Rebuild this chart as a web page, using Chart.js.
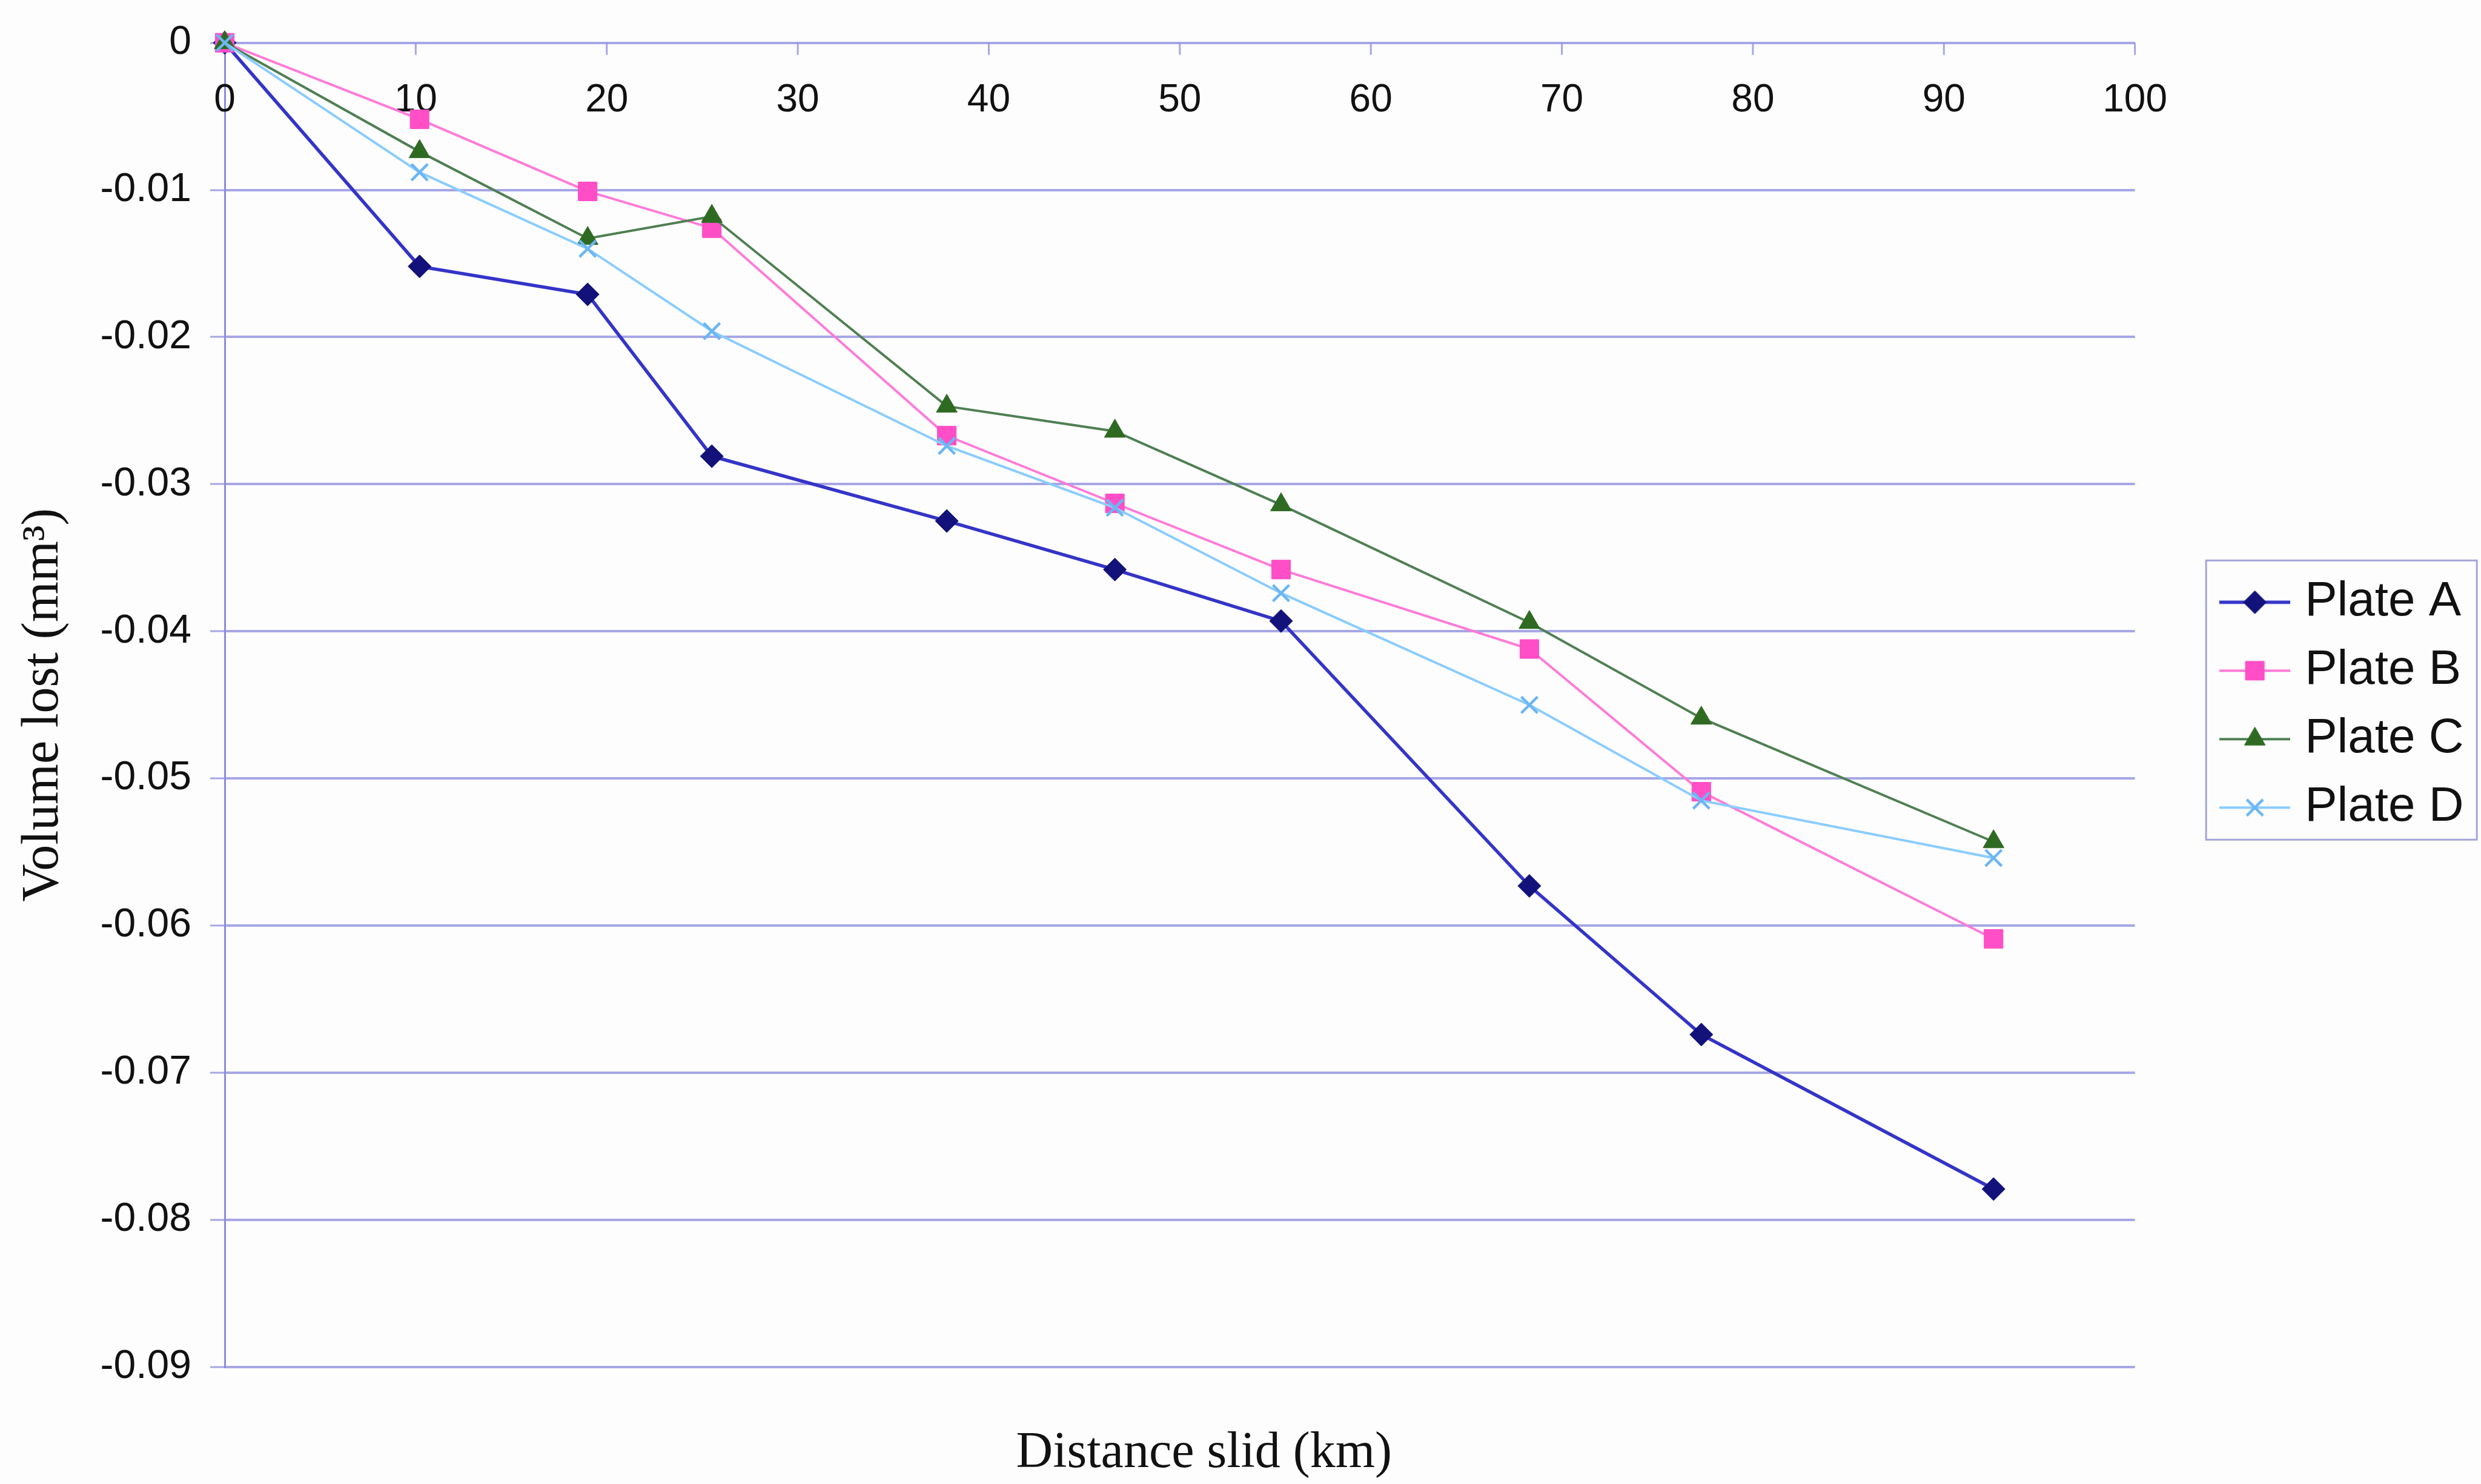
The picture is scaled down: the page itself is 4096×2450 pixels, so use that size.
<!DOCTYPE html>
<html>
<head>
<meta charset="utf-8">
<title>Volume lost vs distance slid</title>
<script src="https://cdn.jsdelivr.net/npm/chart.js@4"></script>
<style>
  html, body { margin: 0; padding: 0; background: #fdfdfe; }
  #wrap { width: 4096px; height: 2450px; position: relative; }
</style>
</head>
<body>
<div id="wrap"><canvas id="chart" width="4096" height="2450"></canvas></div>
<script>
// Sliding distance (km) at each measurement
const distanceKm = [0, 10.2, 19.0, 25.5, 37.8, 46.6, 55.3, 68.3, 77.3, 92.6];

// Volume lost (mm³) per plate
const plateA = [0, -0.0152, -0.0171, -0.0281, -0.0325, -0.0358, -0.0393, -0.0573, -0.0674, -0.0779];
const plateB = [0, -0.0052, -0.0101, -0.0126, -0.0267, -0.0313, -0.0358, -0.0412, -0.0509, -0.0609];
const plateC = [0, -0.0074, -0.0133, -0.0118, -0.0247, -0.0264, -0.0314, -0.0394, -0.0459, -0.0543];
const plateD = [0, -0.0088, -0.0140, -0.0196, -0.0274, -0.0316, -0.0374, -0.0450, -0.0515, -0.0554];

const seriesNames = ['Plate A', 'Plate B', 'Plate C', 'Plate D'];
const xTickValues = [0, 10, 20, 30, 40, 50, 60, 70, 80, 90, 100];
const yMin = -0.09, yMax = 0, yStep = 0.01;
const xTitle = 'Distance slid (km)';
const yTitle = 'Volume lost (mm³)';

const gridColor = 'rgba(150,150,226,0.85)';
const axisColor = '#8c8cdc';
const textColor = '#111111';
const sansFont = '"Liberation Sans", Arial, sans-serif';
const serifFont = '"Liberation Serif", "Times New Roman", serif';

const styles = [
  { line: '#3434c8', point: '#12127a', shape: 'rectRot',  radius: 19, lineWidth: 5.5, pbw: 1 },
  { line: '#ff7ad8', point: '#ff4ec6', shape: 'rect',     radius: 22, lineWidth: 4,   pbw: 1 },
  { line: '#4f7f52', point: '#2f6a22', shape: 'triangle', radius: 20, lineWidth: 4,   pbw: 1 },
  { line: '#8accff', point: '#6cb6f2', shape: 'crossRot', radius: 19, lineWidth: 4,   pbw: 4.5 }
];

const seriesValues = [plateA, plateB, plateC, plateD];

const datasets = seriesValues.map((vals, i) => ({
  label: seriesNames[i],
  data: distanceKm.map((x, j) => ({ x: x, y: vals[j] })),
  borderColor: styles[i].line,
  borderWidth: styles[i].lineWidth,
  backgroundColor: styles[i].point,
  pointBackgroundColor: styles[i].point,
  pointBorderColor: styles[i].point,
  pointBorderWidth: styles[i].pbw,
  pointStyle: styles[i].shape,
  pointRadius: styles[i].radius,
  tension: 0,
  showLine: true,
  fill: false,
  clip: false,
  order: seriesNames.length - 1 - i
}));

// Legend swatch: short line with the series marker in the middle
function legendSwatch(st) {
  const c = document.createElement('canvas');
  c.width = 117; c.height = 50;
  const g = c.getContext('2d');
  g.strokeStyle = st.line;
  g.lineWidth = st.lineWidth;
  g.beginPath(); g.moveTo(0, 25); g.lineTo(117, 25); g.stroke();
  g.fillStyle = st.point;
  g.strokeStyle = st.point;
  g.lineWidth = st.pbw;
  Chart.helpers.drawPoint(g, { pointStyle: st.shape, radius: st.radius, rotation: 0, borderWidth: st.pbw }, 58.5, 25);
  return c;
}
const swatches = styles.map(legendSwatch);

const fmtY = v => {
  const r = Math.round(v * 100) / 100;
  return r === 0 ? '0' : r.toFixed(2);
};

// X labels sit just under the zero line, inside the plot; axis title below the plot
const xAxisAtZero = {
  id: 'xAxisAtZero',
  beforeDatasetsDraw(chart) {
    const { ctx } = chart;
    const xs = chart.scales.x, ys = chart.scales.y;
    const y0 = ys.getPixelForValue(0);
    ctx.save();
    ctx.strokeStyle = gridColor;
    ctx.lineWidth = 3;
    xTickValues.forEach(v => {
      if (v === 0) return;
      const px = xs.getPixelForValue(v);
      ctx.beginPath(); ctx.moveTo(px, y0); ctx.lineTo(px, y0 + 20); ctx.stroke();
    });
    ctx.fillStyle = textColor;
    ctx.font = '64px ' + sansFont;
    ctx.textAlign = 'center';
    ctx.textBaseline = 'middle';
    xTickValues.forEach(v => ctx.fillText(String(v), xs.getPixelForValue(v), y0 + 96));
    ctx.font = '84px ' + serifFont;
    ctx.fillText(xTitle, (xs.left + xs.right) / 2 + 40, chart.height - 50);
    ctx.restore();
  }
};

// Frame around the legend entries
const legendFrame = {
  id: 'legendFrame',
  afterDraw(chart) {
    const lg = chart.legend;
    if (!lg || !lg.legendHitBoxes || !lg.legendHitBoxes.length) return;
    const hb = lg.legendHitBoxes;
    const last = hb[hb.length - 1];
    const x1 = lg.left - 5, x2 = x1 + 447;
    const y1 = hb[0].top - 29, y2 = last.top + last.height + 13;
    const { ctx } = chart;
    ctx.save();
    ctx.strokeStyle = '#a4a4d8';
    ctx.lineWidth = 3;
    ctx.strokeRect(x1, y1, x2 - x1, y2 - y1);
    ctx.restore();
  }
};

new Chart(document.getElementById('chart'), {
  type: 'line',
  data: { datasets },
  plugins: [xAxisAtZero, legendFrame],
  options: {
    responsive: false,
    devicePixelRatio: 1,
    animation: false,
    layout: { padding: { left: 0, top: 64, right: 18.5, bottom: 0 } },
    plugins: {
      tooltip: { enabled: false },
      title: { display: false },
      legend: {
        position: 'right',
        fullSize: false,
        align: 'center',
        labels: {
          usePointStyle: true,
          pointStyleWidth: 85,
          padding: 33,
          color: textColor,
          font: { family: sansFont, size: 80 },
          generateLabels(chart) {
            const items = Chart.defaults.plugins.legend.labels.generateLabels(chart);
            items.sort((a, b) => a.datasetIndex - b.datasetIndex);
            items.forEach(it => { it.pointStyle = swatches[it.datasetIndex]; it.lineWidth = 0; });
            return items;
          }
        }
      }
    },
    scales: {
      x: {
        type: 'linear',
        position: 'bottom',
        min: 0,
        max: 100,
        ticks: { display: false, stepSize: 10 },
        grid: { display: false, drawTicks: false },
        border: { display: false },
        title: { display: false },
        afterFit(s) { s.height = 193; }
      },
      y: {
        type: 'linear',
        position: 'left',
        min: yMin,
        max: yMax,
        ticks: {
          stepSize: yStep,
          padding: 31,
          color: textColor,
          font: { family: sansFont, size: 66 },
          callback: v => fmtY(v)
        },
        grid: { color: gridColor, lineWidth: 4, tickLength: 24, drawTicks: true, tickWidth: 3 },
        border: { display: true, color: axisColor, width: 3 },
        title: {
          display: true,
          text: yTitle,
          color: textColor,
          font: { family: serifFont, size: 86 },
          padding: { top: 21, bottom: 0 }
        },
        afterFit(s) { s.width = 371; }
      },
      gap: {
        type: 'linear',
        axis: 'y',
        position: 'right',
        display: true,
        ticks: { display: false },
        grid: { display: false, drawTicks: false },
        border: { display: false },
        title: { display: false },
        afterFit(s) { s.width = 122.5; }
      }
    }
  }
});
</script>
</body>
</html>
